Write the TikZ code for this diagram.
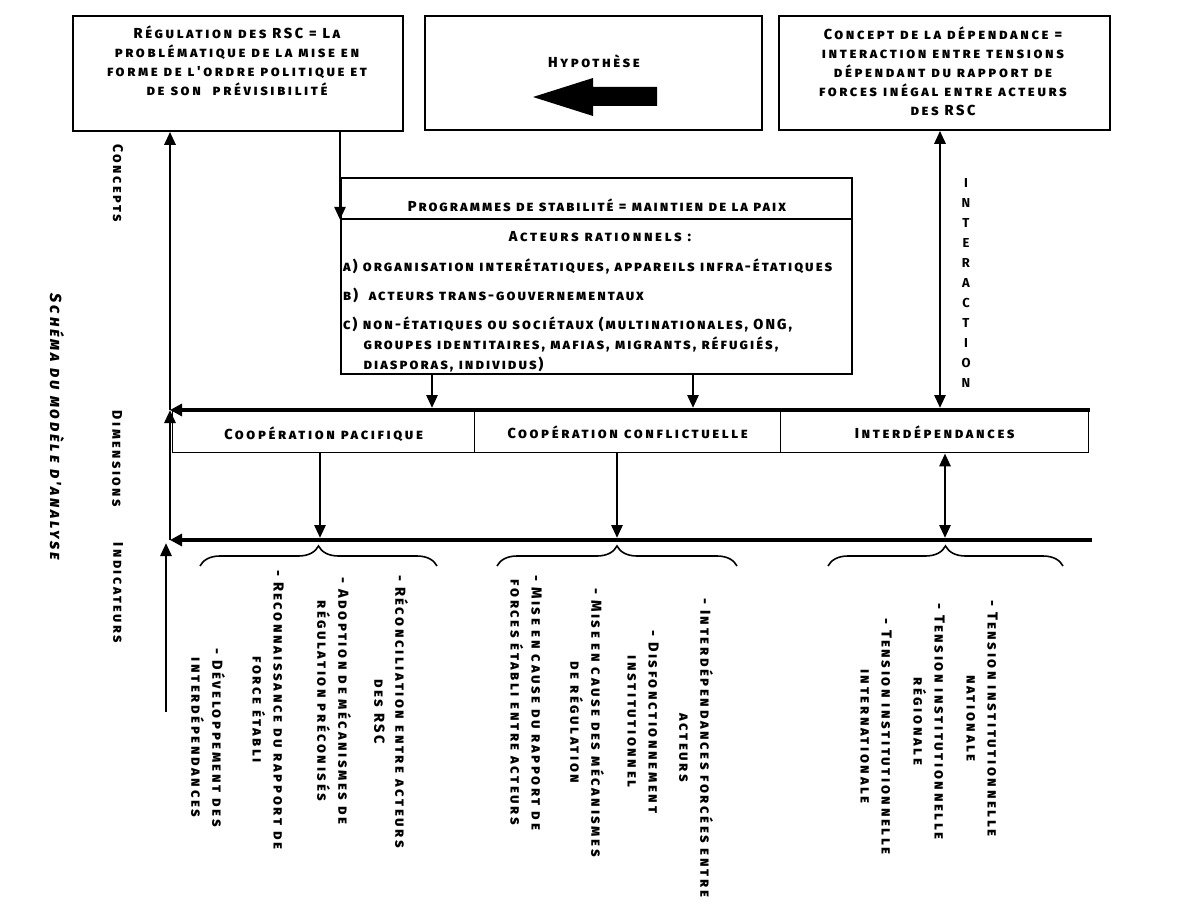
\documentclass[tikz,border=0pt]{standalone}
\usepackage{fontspec}
\setmainfont{Fira Sans}
\newfontfamily\cg{Fira Sans}[BoldFont={Fira Sans ExtraBold}, BoldItalicFont={Fira Sans ExtraBold Italic}, LetterSpace=18]
\newfontfamily\cgn{Fira Sans}[BoldFont={Fira Sans ExtraBold}, LetterSpace=14]
\usetikzlibrary{arrows.meta,decorations.pathreplacing,calc}
\begin{document}
\begin{tikzpicture}[x=1pt,y=1pt,
  box/.style={draw, line width=1.8pt, inner sep=0pt, anchor=north west},
  txt/.style={font=\cg\fontsize{14.5}{19}\selectfont\bfseries\scshape, align=center, inner sep=0pt},
  ltxt/.style={font=\cgn\fontsize{14.5}{20}\selectfont\bfseries\scshape, align=left, inner sep=0pt, anchor=west},
  ind/.style={font=\cg\fontsize{14.5}{21}\selectfont\bfseries\scshape, align=center, inner sep=0pt, rotate=-90, anchor=west},
  side/.style={font=\cg\fontsize{14}{21}\selectfont\bfseries\scshape, inner sep=0pt, rotate=-90},
  arr/.style={line width=2.8pt, -{Triangle[width=11pt,length=13pt]}},
  darr/.style={line width=2.8pt, {Triangle[width=11pt,length=13pt]}-{Triangle[width=11pt,length=13pt]}},
  bar/.style={line width=4pt},
  brc/.style={line width=1.6pt, decorate, decoration={brace, amplitude=20pt}},
]
\useasboundingbox (0,0) rectangle (1187,-904);

% top boxes
\node[box, minimum width=330pt, minimum height=115pt] (b1) at (72,-15) {};
\node[txt] (b1t) at (237,-61) {Régulation des RSC = La\\problématique de la mise en\\forme de l'ordre politique et\\de son\ \ prévisibilité};
\node[box, minimum width=337pt, minimum height=114pt] (b2) at (424,-15) {};
\node[txt] (b2t) at (594,-61) {Hypothèse};
\fill (533,-97) -- (593,-78) -- (593,-87) -- (657,-87) -- (657,-106) -- (593,-106) -- (593,-116) -- cycle;
\node[box, minimum width=331pt, minimum height=114pt] (b3) at (778,-15) {};
\node[txt] (b3t) at (943,-71) {Concept de la dépendance =\\interaction entre tensions\\dépendant du rapport de\\forces inégal entre acteurs\\des RSC};

% middle box
\node[box, minimum width=511pt, minimum height=41pt] (hdr) at (340,-177) {};
\node[txt, font=\cgn\fontsize{14.5}{19}\selectfont\bfseries\scshape] (hdrt) at (597,-205) {Programmes de stabilité = maintien de la paix};
\node[box, minimum width=511pt, minimum height=155pt] (act) at (340,-218) {};
\node[txt] (actt) at (600,-237) {Acteurs rationnels :};
\node[ltxt] (acta) at (343,-266) {a) organisation interétatiques, appareils infra-étatiques};
\node[ltxt] (actb) at (343,-295) {b)\ \ acteurs trans-gouvernementaux};
\node[ltxt] (actc) at (343,-344) {c) non-étatiques ou sociétaux (multinationales, ONG,\\\hspace*{1.4em}groupes identitaires, mafias, migrants, réfugiés,\\\hspace*{1.4em}diasporas, individus)};

% dimension boxes
\node[box, line width=1.4pt, minimum width=302pt, minimum height=42pt] (dp) at (172,-410) {};
\node[box, line width=1.4pt, minimum width=306pt, minimum height=42pt] (dc) at (474,-410) {};
\node[box, line width=1.4pt, minimum width=308pt, minimum height=42pt] (di) at (780,-410) {};
\node[txt] (dpt) at ($(dp.center)+(0,-3)$) {Coopération pacifique};
\node[txt] (dct) at ($(dc.center)+(0,-1)$) {Coopération conflictuelle};
\node[txt] (dit) at ($(di.center)+(0,-1)$) {Interdépendances};

% bars
\coordinate (L1r) at (1090,-410);
\coordinate (L1l) at (170,-410);
\coordinate (L2r) at (1092,-540);
\coordinate (L2l) at (170,-540);
\coordinate (vb) at (166,-712);
\draw[bar, -{Triangle[width=12pt,length=12pt]}] (L1r) -- (L1l);
\draw[bar, -{Triangle[width=12pt,length=12pt]}] (L2r) -- (L2l);
\draw[arr] (vb) -- ($(vb |- L2l)+(0,-3)$);
\draw[arr] (L2l) -- (L1l);
\draw[arr] (L1l) -- (L1l |- b1.south);

% connectors
\coordinate (c340) at (340,0);
\coordinate (c432) at (432,0);
\coordinate (c693) at (693,0);
\coordinate (c940) at (940,0);
\coordinate (c320) at (320,0);
\coordinate (c617) at (617,0);
\coordinate (c945) at (945,0);
\draw[arr] (b1.south -| c340) -- (hdr.south west);
\draw[arr] (act.south -| c432) -- ($(L1l -| c432)+(0,2)$);
\draw[arr] (act.south -| c693) -- ($(L1l -| c693)+(0,2)$);
\draw[darr] (b3.south -| c940) -- ($(L1l -| c940)+(0,2)$);
\draw[arr] (dp.south -| c320) -- ($(L2l -| c320)+(0,2)$);
\draw[arr] (dc.south -| c617) -- ($(L2l -| c617)+(0,2)$);
\draw[darr] (di.south -| c945) -- ($(L2l -| c945)+(0,2)$);

\node[txt, font=\fontsize{13}{20}\selectfont\bfseries] (inter) at (966,-283) {I\\N\\T\\E\\R\\A\\C\\T\\I\\O\\N};

% braces
\draw[brc] (200,-566) -- (437,-566);
\draw[brc] (497,-566) -- (737,-566);
\draw[brc] (828,-566) -- (1063,-566);

% side labels
\node[side] (sconc) at (118,-183) {Concepts};
\node[side] (sdim) at (117,-459) {Dimensions};
\node[side] (sind) at (118,-593) {Indicateurs};
\node[side, font=\cg\fontsize{16}{21}\selectfont\bfseries\itshape\scshape] (sch) at (57,-427) {Schéma du modèle d'analyse};

% indicators
\node[ind] (i1) at (391,-575) {- Réconciliation entre acteurs\\des RSC};
\node[ind] (i2) at (334,-577) {- Adoption de mécanismes de\\régulation préconisés};
\node[ind] (i3) at (268,-570) {- Reconnaissance du rapport de\\force établi};
\node[ind] (i4) at (208,-648) {- Développement des\\interdépendances};
\node[ind] (i5) at (696,-598) {- Interdépendances forcées entre\\acteurs};
\node[ind] (i6) at (643,-630) {- Disfonctionnement\\institutionnel};
\node[ind] (i7) at (587,-588) {- Mise en cause des mécanismes\\de régulation};
\node[ind] (i8) at (526,-575) {- Mise en cause du rapport de\\forces établi entre acteurs};
\node[ind] (i9) at (982,-600) {- Tension institutionnelle\\nationale};
\node[ind] (i10) at (929,-603) {- Tension institutionnelle\\régionale};
\node[ind] (i11) at (876,-618) {- Tension institutionnelle\\internationale};
\end{tikzpicture}
\end{document}
